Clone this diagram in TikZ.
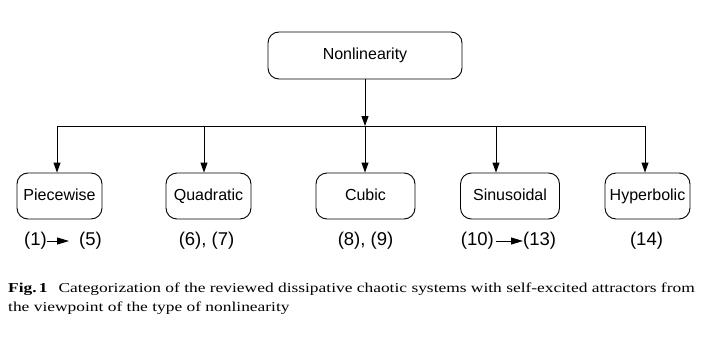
\documentclass[tikz,border=0pt]{standalone}
\usepackage{fontspec}
\setmainfont{Liberation Sans}
\newfontfamily\capfont[FakeStretch=1.28]{Liberation Serif}
\usetikzlibrary{arrows.meta}
\begin{document}
\begin{tikzpicture}[x=1pt,y=-1pt,
  box/.style={draw,line width=0.9pt,rounded corners=11pt,minimum height=46pt,inner sep=0pt,text height=11.5pt,text depth=3.5pt,font=\fontsize{16}{18}\selectfont},
  lab/.style={inner sep=0pt,text height=13pt,text depth=4pt,font=\fontsize{18.5}{20}\selectfont},
  conn/.style={line width=0.9pt,-{Triangle[length=10pt,width=7pt]}},
  smallarr/.style={line width=0.9pt,-{Triangle[length=12pt,width=7pt]}},
  plain/.style={line width=0.9pt}]
\useasboundingbox (0,0) rectangle (720,340);
\node[box,minimum width=194pt,minimum height=47pt] (top) at (365,55.5) {Nonlinearity};
\node[box,minimum width=85pt] (pw) at (59.5,196) {Piecewise};
\node[box,minimum width=85pt] (qd) at (208.5,196) {Quadratic};
\node[box,minimum width=99pt] (cb) at (365.5,196) {Cubic};
\node[box,minimum width=99pt] (sn) at (510,196) {Sinusoidal};
\node[box,minimum width=85pt] (hb) at (647.5,196) {Hyperbolic};
\coordinate (j) at (365,126);
\coordinate (jl) at (57,126);
\coordinate (jr) at (645,126);
\coordinate (jq) at (204,126);
\coordinate (js) at (496,126);
\draw[conn] (top.south -| j) -- (j);
\draw[plain] (jl) -- (jr);
\draw[conn] (jl) -- (jl |- pw.north);
\draw[conn] (jq) -- (jq |- qd.north);
\draw[conn] (j) -- (j |- cb.north);
\draw[conn] (js) -- (js |- sn.north);
\draw[conn] (jr) -- (jr |- hb.north);
% labels
\node[lab,anchor=east] (l1) at (47,241) {(1)};
\node[lab,anchor=west] (l5) at (79,241) {(5)};
\draw[smallarr] (l1.east) -- (69,241);
\node[lab] (l67) at (206.5,241) {(6), (7)};
\node[lab] (l89) at (365.5,241) {(8), (9)};
\node[lab,anchor=east] (l10) at (494,241) {(10)};
\node[lab,anchor=west] (l13) at (523,241) {(13)};
\draw[smallarr] (l10.east) ++(2,0) -- (l13.west);
\node[lab] (l14) at (646.5,241) {(14)};
% caption
\node[anchor=north west,inner sep=0pt,align=left,font=\capfont\fontsize{13.6}{19}\selectfont] (cap) at (8,283)
 {\textbf{Fig.\,1}\hspace{0.8em}Categorization of the reviewed dissipative chaotic systems with self-excited attractors from\\ the viewpoint of the type of nonlinearity};
\end{tikzpicture}
\end{document}
